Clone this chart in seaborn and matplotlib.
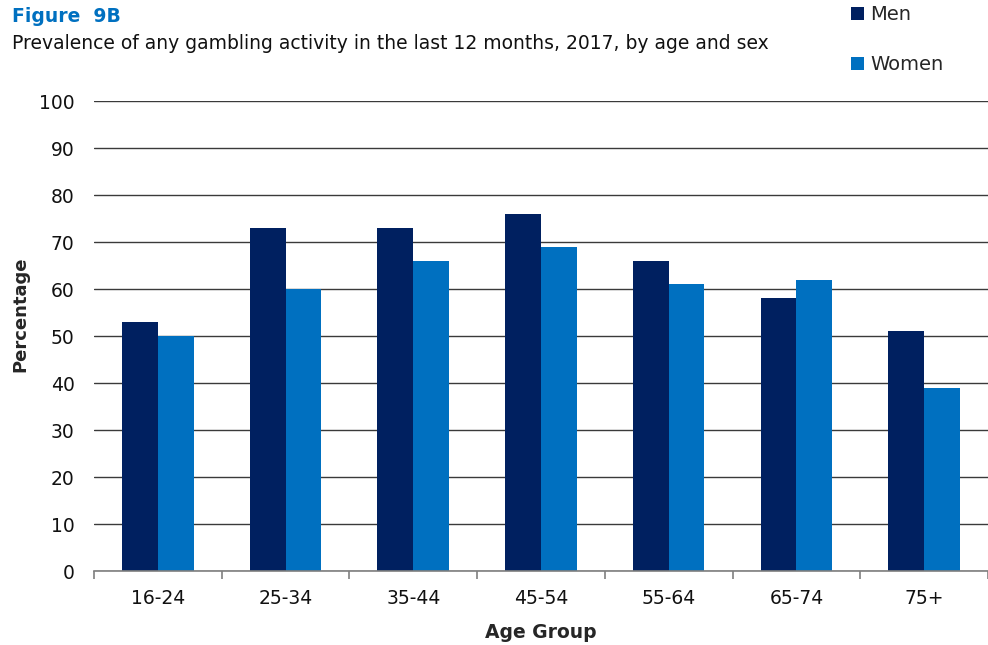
import matplotlib
matplotlib.use("Agg")
import matplotlib.pyplot as plt
import seaborn as sns
import pandas as pd
from matplotlib.patches import Patch

age_groups = ["16-24", "25-34", "35-44", "45-54", "55-64", "65-74", "75+"]
men = [53, 73, 73, 76, 66, 58, 51]
women = [50, 60, 66, 69, 61, 62, 39]
sexes = ["Men", "Women"]
colors = {"Men": "#002060", "Women": "#0070C0"}

df = pd.DataFrame({
    "Age Group": age_groups * 2,
    "Percentage": men + women,
    "Sex": ["Men"] * len(age_groups) + ["Women"] * len(age_groups),
})

sns.set_style("white")
plt.rcParams["font.family"] = ["DejaVu Sans"]

fig = plt.figure(figsize=(9.88, 6.45), dpi=100)
ax = fig.add_axes([0.0951, 0.1147, 0.9049, 0.7287])

sns.barplot(data=df, x="Age Group", y="Percentage", hue="Sex", hue_order=sexes,
            palette=colors, width=0.56, gap=0, saturation=1, ax=ax,
            edgecolor="none", linewidth=0, legend=False, zorder=3)

ax.set_ylim(0, 100)
ax.set_xlim(-0.5, len(age_groups) - 0.5)
ax.set_yticks(range(0, 101, 10))
ax.yaxis.grid(True, color="#3a3a3a", linewidth=1.0, zorder=0)
ax.set_axisbelow(True)
for s in ["top", "right", "left"]:
    ax.spines[s].set_visible(False)
ax.spines["bottom"].set_color("#7f7f7f")
ax.spines["bottom"].set_linewidth(1.2)
ax.spines["bottom"].set_zorder(4)

# tick marks on the category boundaries
ax.set_xticks([i + 0.5 for i in range(-1, len(age_groups))], minor=True)
ax.tick_params(axis="x", which="minor", length=6, width=1.2, color="#7f7f7f",
               direction="out", bottom=True)
ax.tick_params(axis="x", which="major", length=0, labelsize=13.5, pad=13,
               labelcolor="#111111")
ax.tick_params(axis="y", length=0, labelsize=13.5, pad=14, labelcolor="#111111")

ax.set_xlabel("Age Group", fontsize=13.5, fontweight="bold", labelpad=11)
ax.set_ylabel("Percentage", fontsize=13, fontweight="bold")
ax.yaxis.set_label_coords(-0.072, 0.547)

fig.text(0.012, 0.975, "Figure  9B", fontsize=13.5, fontweight="bold",
         color="#0070C0", va="center", ha="left")
fig.text(0.012, 0.932, "Prevalence of any gambling activity in the last 12 months, 2017, by age and sex",
         fontsize=13.5, color="#111111", va="center", ha="left")

handles = [Patch(facecolor=colors[s], edgecolor="none") for s in sexes]
fig.legend(handles, sexes, loc="upper left", bbox_to_anchor=(0.853, 1.004),
           frameon=False, fontsize=14, handlelength=0.7, handleheight=0.7,
           handletextpad=0.3, labelspacing=1.6, borderaxespad=0)

fig.savefig("out.png", dpi=100)
